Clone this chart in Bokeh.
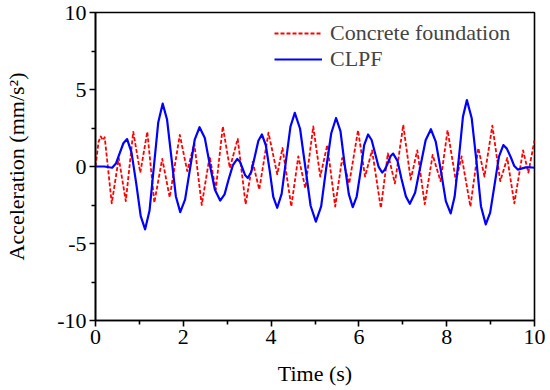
from bokeh.plotting import figure
from bokeh.models import Range1d, FixedTicker, Legend, LegendItem
from bokeh.embed import file_html
from bokeh.resources import INLINE

# ---- data ----
clpf_t = [0, 0.2, 0.38, 0.465, 0.55, 0.635, 0.72, 0.82, 0.93, 1.03, 1.13, 1.23, 1.33, 1.43,
          1.53, 1.63, 1.73, 1.83, 1.93, 2.04, 2.15, 2.26, 2.37, 2.49, 2.6, 2.72, 2.84, 2.94,
          3.03, 3.13, 3.23, 3.29, 3.35, 3.41, 3.47, 3.55, 3.63, 3.71, 3.79, 3.88, 3.97, 4.05,
          4.14, 4.24, 4.34, 4.44, 4.54, 4.66, 4.78, 4.90, 5.02, 5.14, 5.25, 5.37, 5.48, 5.58,
          5.67, 5.77, 5.86, 5.95, 6.04, 6.12, 6.21, 6.29, 6.37, 6.45, 6.53, 6.59, 6.66, 6.72,
          6.78, 6.88, 6.97, 7.07, 7.16, 7.28, 7.40, 7.52, 7.64, 7.75, 7.87, 7.98, 8.09, 8.18,
          8.28, 8.37, 8.46, 8.57, 8.68, 8.78, 8.89, 8.99, 9.09, 9.19, 9.29, 9.37, 9.46, 9.54,
          9.62, 9.7, 9.8, 9.9, 10]
clpf_a = [0, 0, -0.08, 0.19, 0.85, 1.51, 1.78, 0.92, -1.15, -3.22, -4.08, -2.88, 0, 2.88,
          4.08, 3.05, 0.56, -1.93, -2.96, -2.15, -0.2, 1.74, 2.55, 1.85, 0.17, -1.51, -2.21, -1.81,
          -0.86, 0.09, 0.49, 0.31, -0.13, -0.57, -0.75, -0.34, 0.67, 1.67, 2.08, 1.38, -0.3, -1.98,
          -2.68, -1.78, 0.4, 2.58, 3.48, 2.45, -0.05, -2.55, -3.58, -2.59, -0.22, 2.16, 3.15, 2.3,
          0.26, -1.79, -2.64, -1.95, -0.28, 1.39, 2.08, 1.72, 0.85, -0.03, -0.39, -0.21, 0.23, 0.66,
          0.84, 0.36, -0.79, -1.94, -2.42, -1.71, 0, 1.71, 2.42, 1.62, -0.32, -2.25, -3.05, -1.97,
          0.63, 3.23, 4.31, 3.13, 0.28, -2.58, -3.76, -3.0, -1.19, 0.64, 1.39, 1.16, 0.6, 0.03,
          -0.2, -0.14, -0.06, -0.05, -0.08]

conc_t = [0, 0.07, 0.12, 0.17, 0.21, 0.37, 0.53, 0.69, 0.86, 1.02, 1.18, 1.34, 1.52, 1.69,
          1.92, 2.09, 2.25, 2.42, 2.6, 2.74, 2.9, 3.06, 3.24, 3.42, 3.58, 3.73, 3.94, 4.14,
          4.26, 4.46, 4.62, 4.78, 4.96, 5.12, 5.28, 5.46, 5.62, 5.78, 5.98, 6.14, 6.3, 6.5,
          6.66, 6.82, 7.01, 7.18, 7.33, 7.5, 7.68, 7.86, 8.02, 8.21, 8.34, 8.54, 8.72, 8.86,
          9.04, 9.22, 9.38, 9.54, 9.74, 9.86, 10]
conc_a = [0, 1.6, 1.95, 1.7, 1.9, -2.4, 0.55, -2.25, 2.25, -0.4, 2.25, -2.35, 0.5, -2.0,
          2.05, -0.3, 1.5, -2.5, 0.65, -1.5, 2.6, -0.1, 1.8, -2.45, 0.3, -1.5, 2.2, -0.5,
          1.2, -2.6, 0.65, -1.4, 2.6, -0.65, 1.4, -2.6, 0.55, -1.1, 2.35, -0.65, 1.05, -2.7,
          0.85, -1.1, 2.7, -0.85, 1.05, -2.45, 0.75, -0.95, 2.35, -0.95, 0.65, -2.6, 1.2, -0.65,
          2.65, -0.95, 0.55, -2.4, 1.05, -0.4, 1.7]

x_ticks = [0, 2, 4, 6, 8, 10]
x_minor = [1, 3, 5, 7, 9]
y_ticks = [-10, -5, 0, 5, 10]
y_minor = [-7.5, -2.5, 2.5, 7.5]
x_labels = {0: "0", 2: "2", 4: "4", 6: "6", 8: "8", 10: "10"}
y_labels = {-10: "-10", -5: "-5", 0: "0", 5: "5", 10: "10"}
series_names = ["Concrete foundation", "CLPF"]

FONT = "'Liberation Serif', 'Times New Roman', serif"
FS = "22px"

p = figure(width=550, height=390, output_backend="svg", toolbar_location=None,
           x_range=Range1d(0, 10), y_range=Range1d(-10, 10),
           min_border_left=95, min_border_right=16, min_border_top=12, min_border_bottom=70)
p.xgrid.visible = False
p.ygrid.visible = False
p.outline_line_color = "black"
p.outline_line_width = 1.6
p.background_fill_color = "white"
p.border_fill_color = "white"

r1 = p.line(conc_t, conc_a, line_color="#FF0000", line_width=1.8, line_dash="4 2",
            line_join="round")
r2 = p.line(clpf_t, clpf_a, line_color="#0000FF", line_width=2.2, line_join="round")

for ax, ticks, minor, labels in ((p.xaxis[0], x_ticks, x_minor, x_labels),
                                 (p.yaxis[0], y_ticks, y_minor, y_labels)):
    ax.ticker = FixedTicker(ticks=ticks, minor_ticks=minor)
    ax.major_label_overrides = labels
    ax.major_label_text_font = FONT
    ax.major_label_text_font_size = FS
    ax.major_label_text_color = "black"
    ax.axis_label_text_font = FONT
    ax.axis_label_text_font_size = FS
    ax.axis_label_text_font_style = "normal"
    ax.axis_label_text_color = "black"
    ax.axis_line_width = 1.6
    ax.major_tick_line_width = 1.6
    ax.minor_tick_line_width = 1.6
    ax.major_tick_out = 6
    ax.major_tick_in = 0
    ax.minor_tick_out = 4
    ax.minor_tick_in = 0
    ax.major_label_standoff = 3

p.xaxis.axis_label = "Time (s)"
p.yaxis.axis_label = "Acceleration (mm/s²)"
p.xaxis.axis_label_standoff = 14
p.yaxis.axis_label_standoff = 25

legend = Legend(items=[LegendItem(label=series_names[0], renderers=[r1]),
                       LegendItem(label=series_names[1], renderers=[r2])],
                location=(179, 248))
legend.background_fill_alpha = 0
legend.border_line_alpha = 0
legend.padding = 0
legend.margin = 0
legend.spacing = 0
legend.glyph_width = 48
legend.label_standoff = 8
legend.label_text_font = FONT
legend.label_text_font_size = FS
p.add_layout(legend)

open("out.html", "w").write(file_html(p, INLINE))
